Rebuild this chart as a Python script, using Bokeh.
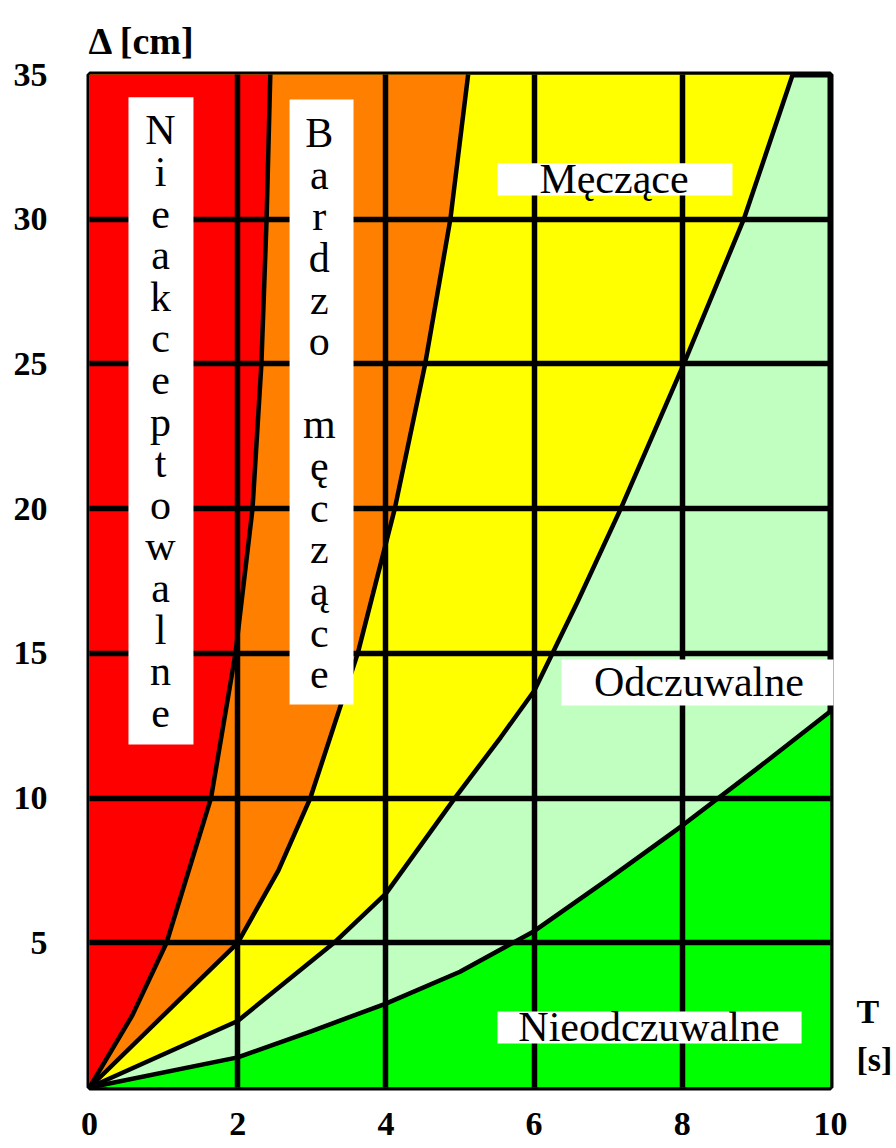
from bokeh.plotting import figure
from bokeh.models import Range1d, FixedTicker, LinearAxis
from bokeh.core.properties import value
from bokeh.embed import file_html
from bokeh.resources import INLINE

# ---- data ----
x_ticks = [0, 2, 4, 6, 8, 10]
y_ticks = [5, 10, 15, 20, 25, 30, 35]
y_grid = [0, 5, 10, 15, 20, 25, 30, 35]

# boundary Nieakceptowalne / Bardzo męczące (T as function of Δ)
b1_delta = [0, 2.5, 5, 10, 15, 20, 25, 30, 35]
b1_T = [0, 0.58, 1.04, 1.64, 1.97, 2.2, 2.32, 2.39, 2.44]

# boundary Bardzo męczące / Męczące
b2_delta = [0, 5, 7.5, 10, 15, 20, 25, 30, 35]
b2_T = [0, 2.0, 2.55, 2.98, 3.62, 4.12, 4.53, 4.87, 5.11]

# boundary Męczące / Odczuwalne
b3_T = [0, 2, 3.3, 4, 4.93, 5.55, 6.0, 6.59, 7.17, 8.02, 8.83, 9.49]
b3_delta = [0, 2.3, 5, 6.7, 10, 12.1, 13.7, 16.8, 20, 25, 30, 35]

# boundary Odczuwalne / Nieodczuwalne (Δ as function of T)
b4_T = [0, 2, 3, 4, 5, 6, 7, 8, 9, 10]
b4_delta = [0, 1.04, 1.95, 2.9, 4.0, 5.4, 7.2, 9.05, 11.0, 13.0]

RED, ORANGE, YELLOW, LIGHT, GREEN = "#FF0000", "#FF8000", "#FFFF00", "#C0FFC0", "#00FF00"
SERIF = "Liberation Serif"

p = figure(width=896, height=1148, x_range=Range1d(0, 10), y_range=Range1d(0, 35),
           output_backend="svg", toolbar_location=None,
           min_border_left=89, min_border_right=66, min_border_top=74, min_border_bottom=61)
p.background_fill_color = LIGHT
p.border_fill_color = "white"
p.outline_line_color = "black"
p.outline_line_width = 6

# y-axis title as plot title (top-left)
p.title.text = "Δ [cm]"
p.title.align = "left"
p.title.offset = -1
p.title.standoff = 26
p.title.text_font = SERIF
p.title.text_font_style = "bold"
p.title.text_font_size = "38px"
p.title.text_color = "black"

# zones
p.varea(x=b4_T, y1=[0] * len(b4_T), y2=b4_delta, fill_color=GREEN)
p.harea(y=b3_delta, x1=[0] * len(b3_delta), x2=b3_T, fill_color=YELLOW)
p.harea(y=b2_delta, x1=[0] * len(b2_delta), x2=b2_T, fill_color=ORANGE)
p.harea(y=b1_delta, x1=[0] * len(b1_delta), x2=b1_T, fill_color=RED)

# grid above zones
p.xgrid.ticker = FixedTicker(ticks=x_ticks)
p.ygrid.ticker = FixedTicker(ticks=y_grid)
for g in (p.xgrid, p.ygrid):
    g.grid_line_color = "black"
    g.grid_line_width = 5.5
    g.level = "guide"

# boundary curves
for xs, ys in ((b1_T, b1_delta), (b2_T, b2_delta), (b3_T, b3_delta), (b4_T, b4_delta)):
    p.line(xs, ys, line_color="black", line_width=4.5, level="annotation")


def style_axis(ax, standoff):
    ax.axis_line_color = None
    ax.major_tick_line_color = None
    ax.minor_tick_line_color = None
    ax.major_tick_out = 0
    ax.major_tick_in = 0
    ax.minor_tick_out = 0
    ax.minor_tick_in = 0
    ax.major_label_standoff = standoff
    ax.major_label_text_font = SERIF
    ax.major_label_text_font_style = "bold"
    ax.major_label_text_font_size = "34px"
    ax.major_label_text_color = "black"


yax = p.yaxis[0]
yax.ticker = FixedTicker(ticks=y_ticks)
style_axis(yax, 42)

xax = p.xaxis[0]
xax.ticker = FixedTicker(ticks=x_ticks)
style_axis(xax, 25)

# x-axis title "T [s]" on the right, bottom, via a helper axis in pixel-like units
p.extra_y_ranges = {"px": Range1d(0, 1013)}
tax = LinearAxis(y_range_name="px", ticker=FixedTicker(ticks=[28, 76]),
                 major_label_overrides={28: "[s]", 76: "T"})
style_axis(tax, 26)
tax.major_label_text_font_size = "34px"
p.add_layout(tax, "right")

# white label boxes
box_l = [0.526, 2.70, 5.506, 6.37, 5.506]
box_r = [1.403, 3.563, 8.677, 10.04, 9.61]
box_t = [34.21, 34.14, 31.93, 14.79, 2.63]
box_b = [11.85, 13.23, 30.82, 13.20, 1.52]
p.quad(left=box_l, right=box_r, top=box_t, bottom=box_b, fill_color="white",
       line_color=None, level="overlay")

dy = 0.35  # baseline correction
step = 1.4375
w1 = list("Nieakceptowalne")
w2 = list("Bardzo") + [""] + list("męczące")
p.text(x=[0.958] * len(w1), y=[32.72 + dy - i * step for i in range(len(w1))], text=w1,
       text_font=value(SERIF), text_font_size=value("42px"), text_align="center",
       text_baseline="alphabetic", text_color="black", level="overlay")
p.text(x=[3.10] * len(w2), y=[32.62 + dy - i * step for i in range(len(w2))], text=w2,
       text_font=value(SERIF), text_font_size=value("42px"), text_align="center",
       text_baseline="alphabetic", text_color="black", level="overlay")
p.text(x=[7.078, 8.225, 7.55], y=[31.03 + dy, 13.65 + dy, 1.73 + dy],
       text=["Męczące", "Odczuwalne", "Nieodczuwalne"],
       text_font=value(SERIF), text_font_size=value("42px"), text_align="center",
       text_baseline="alphabetic", text_color="black", level="overlay")

open("out.html", "w").write(file_html(p, INLINE))
